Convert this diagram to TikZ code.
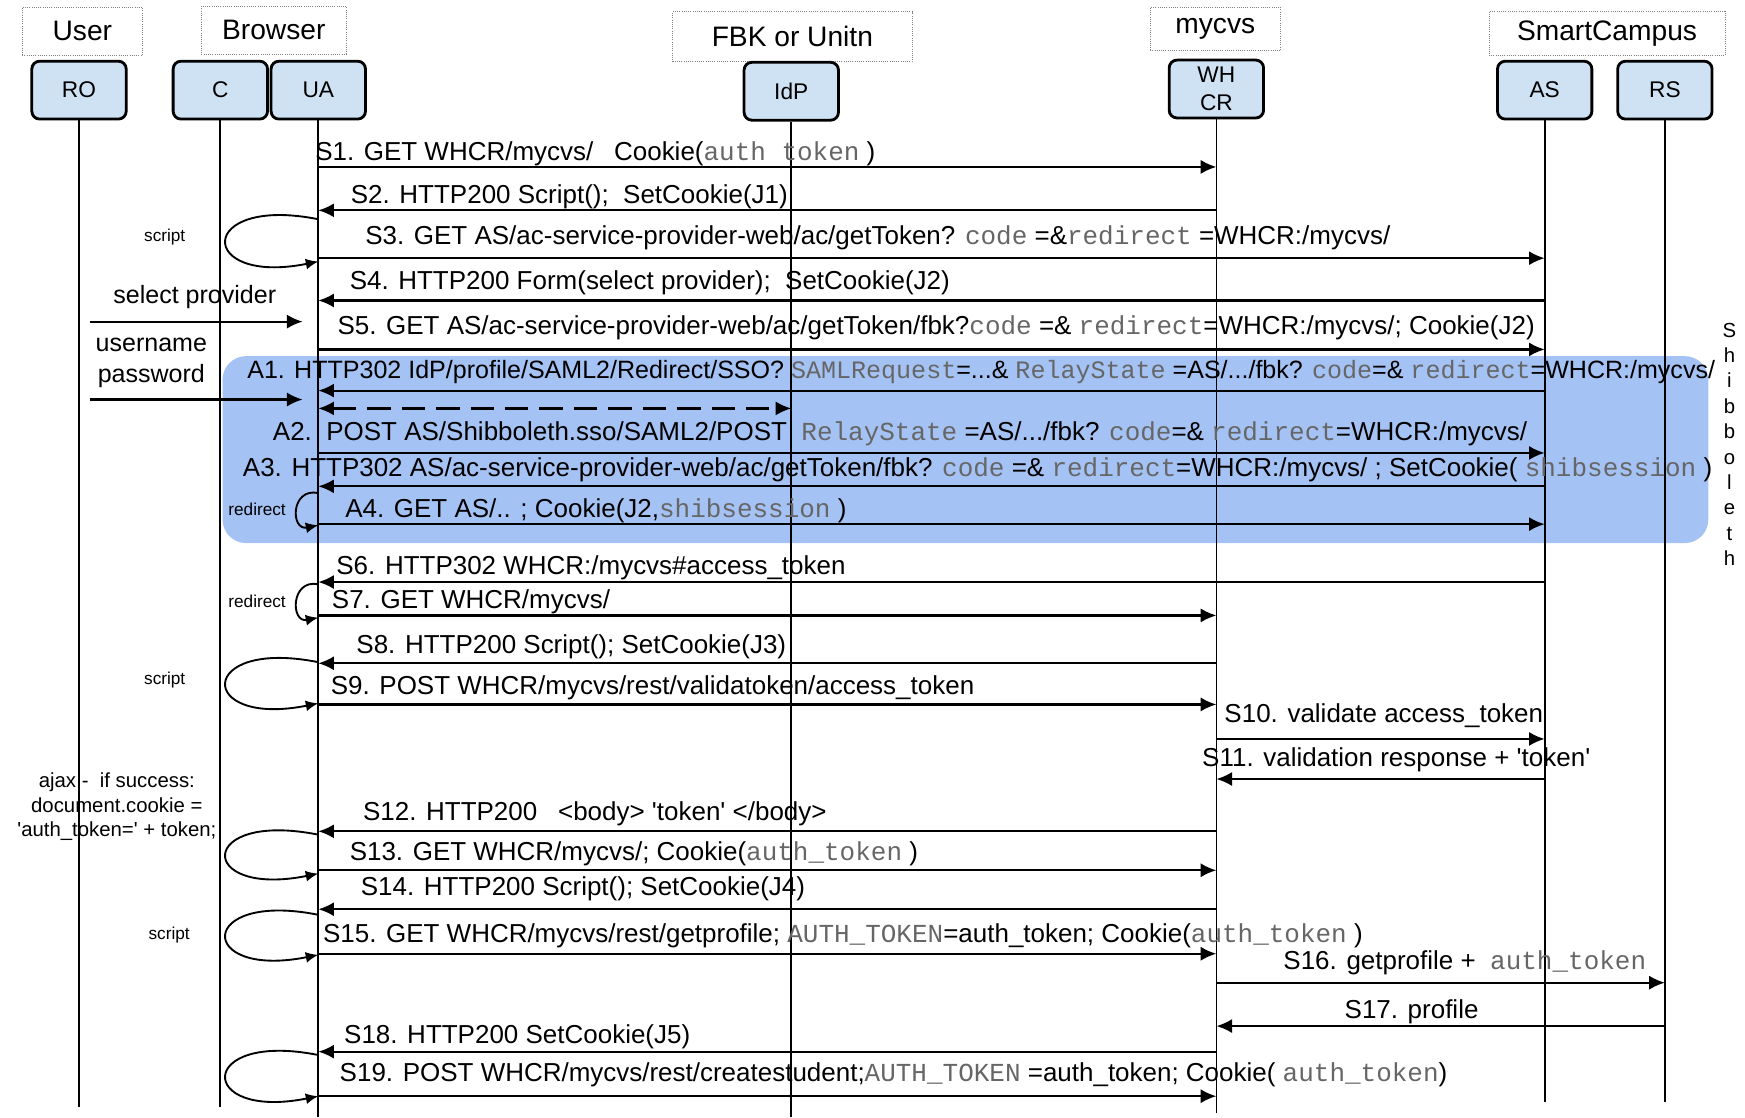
\documentclass[tikz,border=0pt]{standalone}
\usepackage{fontspec}
\newfontfamily\labelfont{Liberation Sans}
\newfontfamily\codefont{Liberation Mono}
\usetikzlibrary{arrows.meta}
\usetikzlibrary{calc}
\definecolor{boxblue}{HTML}{CFE2F3}
\definecolor{bandblue}{HTML}{A4C2F4}
\definecolor{codegray}{HTML}{666666}
\newcommand{\param}[1]{{\codefont\color{codegray}#1}}

\begin{document}
\labelfont
\begin{tikzpicture}[x=0.025cm, y=-0.025cm,
    group/.style={draw=gray, densely dotted, inner sep=0pt, font=\fontsize{18}{21}\selectfont},
    actor/.style={draw, line width=1.8pt, fill=boxblue, rounded corners=5pt, minimum width=2.12cm,
                  minimum height=1.3cm, align=center, font=\fontsize{14.5}{17.7}\selectfont},
    life/.style={line width=1.1pt},
    msg/.style={line width=1.4pt, -{Latex[length=10pt,width=9pt]}},
    selfloop/.style={line width=1.2pt, -{Latex[length=8pt,width=7pt]}},
    lbl/.style={anchor=base west, inner sep=0pt, font=\fontsize{16.6}{19}\selectfont},
    note/.style={inner sep=0pt, font=\fontsize{11}{13}\selectfont},
  ]
    \useasboundingbox (0,0) rectangle (1568,1004);

    % shibboleth block
    \fill[bandblue, rounded corners=15pt] (200,320) rectangle (1535,488);

    % groups
    \node[group, minimum width=2.7cm, minimum height=1.075cm] (user) at (74,28) {User};
    \node[group, minimum width=3.25cm, minimum height=1.075cm] (browser) at (246,27) {Browser};
    \node[group, minimum width=5.375cm, minimum height=1.125cm] (fbk) at (712,33) {FBK or Unitn};
    \node[group, minimum width=2.925cm, minimum height=0.975cm] (mycvs) at (1092,26) {mycvs};
    \node[group, minimum width=5.3cm, minimum height=1cm] (campus) at (1444,30) {SmartCampus};

    % participants
    \node[actor] (RO) at (71,81) {RO};
    \node[actor] (C) at (198,81) {C};
    \node[actor] (UA) at (286,81) {UA};
    \node[actor] (IdP) at (711,82) {IdP};
    \node[actor] (WHCR) at (1093,80) {WH\\CR};
    \node[actor] (AS) at (1388,81) {AS};
    \node[actor] (RS) at (1496,81) {RS};

    \foreach \p/\e in {RO/995, C/995, UA/1004, IdP/1004, WHCR/1000, AS/990, RS/990}
        \draw[life] (\p.south) -- (\p |- 0,\e);

    % messages
    \foreach \y/\a/\b in {150/UA/WHCR, 189/WHCR/UA, 232/UA/AS, 270/AS/UA, 314/UA/AS,
                          351/AS/UA, 407/UA/AS, 437/AS/UA, 471/UA/AS, 523/AS/UA,
                          553/UA/WHCR, 596/WHCR/UA, 633/UA/WHCR, 664/WHCR/AS, 700/AS/WHCR,
                          747/WHCR/UA, 782/UA/WHCR, 817/WHCR/UA, 857/UA/WHCR, 883/WHCR/RS,
                          922/RS/WHCR, 945/WHCR/UA, 985/UA/WHCR}
        \draw[msg] (\a |- 0,\y) -- (\b |- 0,\y);
    \draw[msg, {Latex[length=10pt,width=9pt]}-{Latex[length=10pt,width=9pt]}, dash pattern=on 15pt off 7pt]
        (UA |- 0,367) -- (IdP |- 0,367);

    % user input
    \draw[msg, shorten <=7pt, shorten >=10pt] (RO |- 0,289) -- (UA |- 0,289);
    \draw[msg, shorten <=7pt, shorten >=10pt] (RO |- 0,359) -- (UA |- 0,359);

    % script / redirect loops
    \foreach \a/\b in {197/235, 595/632, 750/785, 822/858, 948/985}
        \draw[selfloop] (UA |- 0,\a) .. controls +(-110,-22) and +(-110,22) .. (UA |- 0,\b);
    \foreach \a/\b in {443/472, 525/555}
        \draw[selfloop] (UA |- 0,\a) .. controls +(-25,-5) and +(-25,5) .. (UA |- 0,\b);

    % labels
    \node[lbl] (s1) at (283,144) {S1. GET WHCR/mycvs/\hspace{0.8em}Cookie(\param{auth token} )};
    \node[lbl] (s2) at (315,183) {S2. HTTP200 Script();\ \ SetCookie(J1)};
    \node[lbl] (s3) at (328,220) {S3. GET AS/ac-service-provider-web/ac/getToken? \param{code} =\&\param{redirect} =WHCR:/mycvs/};
    \node[lbl] (s4) at (314,260) {S4. HTTP200 Form(select provider);\ \ SetCookie(J2)};
    \node[lbl] (s5) at (303,301) {S5. GET AS/ac-service-provider-web/ac/getToken/fbk?\param{code} =\& \param{redirect}=WHCR:/mycvs/; Cookie(J2)};
    \node[lbl, font=\fontsize{16}{19}\selectfont] (a1) at (222,340) {A1. HTTP302 IdP/profile/SAML2/Redirect/SSO? \param{SAMLRequest}=...\& \param{RelayState} =AS/.../fbk? \param{code}=\& \param{redirect}=WHCR:/mycvs/};
    \node[lbl] (a2) at (245,396) {A2.\ \ POST AS/Shibboleth.sso/SAML2/POST\ \ \param{RelayState} =AS/.../fbk? \param{code}=\& \param{redirect}=WHCR:/mycvs/};
    \node[lbl] (a3) at (218,428) {A3. HTTP302 AS/ac-service-provider-web/ac/getToken/fbk? \param{code} =\& \param{redirect}=WHCR:/mycvs/ ; SetCookie( \param{shibsession} )};
    \node[lbl] (a4) at (310,465) {A4. GET AS/.. ; Cookie(J2,\param{shibsession} )};
    \node[lbl] (s6) at (302,516) {S6. HTTP302 WHCR:/mycvs\#access\_token};
    \node[lbl] (s7) at (298,547) {S7. GET WHCR/mycvs/};
    \node[lbl] (s8) at (320,587) {S8. HTTP200 Script(); SetCookie(J3)};
    \node[lbl] (s9) at (297,624) {S9. POST WHCR/mycvs/rest/validatoken/access\_token};
    \node[lbl] (s10) at (1100,649) {S10. validate access\_token};
    \node[lbl] (s11) at (1080,689) {S11. validation response + 'token'};
    \node[lbl] (s12) at (326,737) {S12. HTTP200\hspace{0.8em}<body> 'token' </body>};
    \node[lbl] (s13) at (314,773) {S13. GET WHCR/mycvs/; Cookie(\param{auth\_token} )};
    \node[lbl] (s14) at (324,805) {S14. HTTP200 Script(); SetCookie(J4)};
    \node[lbl] (s15) at (290,847) {S15. GET WHCR/mycvs/rest/getprofile; \param{AUTH\_TOKEN}=auth\_token; Cookie(\param{auth\_token} )};
    \node[lbl] (s16) at (1153,871) {S16. getprofile + \ \param{auth\_token}};
    \node[lbl] (s17) at (1208,915) {S17. profile};
    \node[lbl] (s18) at (309,938) {S18. HTTP200 SetCookie(J5)};
    \node[lbl] (s19) at (305,972) {S19. POST WHCR/mycvs/rest/createstudent;\param{AUTH\_TOKEN} =auth\_token; Cookie( \param{auth\_token})};

    % side notes
    \node[note] (script1) at (148,213) {script};
    \node[note] (script2) at (148,611) {script};
    \node[note] (script3) at (152,840) {script};
    \node[note] (redir1) at (231,458) {redirect};
    \node[note] (redir2) at (231,540) {redirect};
    \node[inner sep=0pt, font=\fontsize{16}{19}\selectfont] (selprov) at (175,267) {select provider};
    \node[inner sep=0pt, align=center, font=\fontsize{16}{19.5}\selectfont] (login) at (136,326) {username\\password};
    \node[inner sep=0pt, align=center, font=\fontsize{13}{15.6}\selectfont] (ajax) at (105,725)
        {ajax -\ \ if success:\\document.cookie =\\'auth\_token=' + token;};
    \foreach \c [count=\i] in {S,h,i,b,b,o,l,e,t,h}
        \node[anchor=base, inner sep=0pt, font=\fontsize{13}{15}\selectfont] (shib\i) at (1554,{303+22.8*(\i-1)}) {\c};
\end{tikzpicture}
\end{document}
